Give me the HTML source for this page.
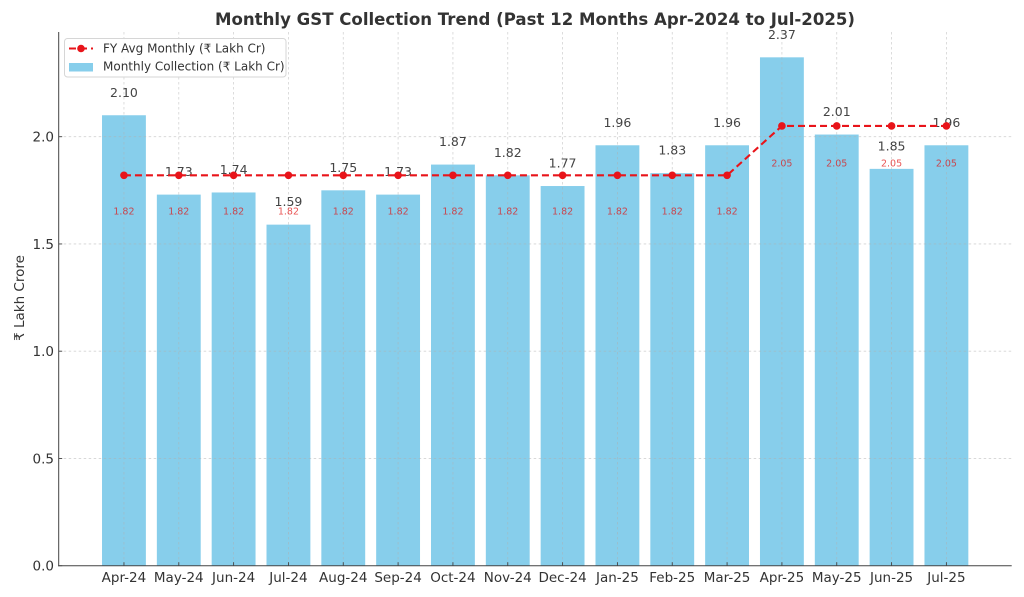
<!DOCTYPE html>
<html><head><meta charset="utf-8"><style>
html,body{margin:0;padding:0;background:#fff;}
svg{display:block;font-family:"DejaVu Sans","Liberation Sans",sans-serif;}
</style></head><body>
<svg width="1024" height="597" viewBox="0 0 1024 597" xmlns="http://www.w3.org/2000/svg">
<rect width="1024" height="597" fill="#fff"/>
<!-- bars -->
<g fill="#87CEEB">
<rect x="102.02" y="115.25" width="43.86" height="450.45"/>
<rect x="156.85" y="194.61" width="43.86" height="371.09"/>
<rect x="211.68" y="192.47" width="43.86" height="373.23"/>
<rect x="266.51" y="224.64" width="43.86" height="341.06"/>
<rect x="321.34" y="190.32" width="43.86" height="375.38"/>
<rect x="376.17" y="194.61" width="43.86" height="371.09"/>
<rect x="431.00" y="164.58" width="43.86" height="401.12"/>
<rect x="485.83" y="175.31" width="43.86" height="390.39"/>
<rect x="540.66" y="186.03" width="43.86" height="379.67"/>
<rect x="595.49" y="145.28" width="43.86" height="420.42"/>
<rect x="650.32" y="173.16" width="43.86" height="392.54"/>
<rect x="705.15" y="145.28" width="43.86" height="420.42"/>
<rect x="759.98" y="57.33" width="43.86" height="508.37"/>
<rect x="814.81" y="134.55" width="43.86" height="431.15"/>
<rect x="869.64" y="168.87" width="43.86" height="396.83"/>
<rect x="924.47" y="145.28" width="43.86" height="420.42"/>
</g>
<!-- grid -->
<g stroke="#b0b0b0" stroke-width="0.8" stroke-dasharray="2.5,2.5" opacity="0.55">
<line x1="58.7" x2="1011.7" y1="458.45" y2="458.45"/>
<line x1="58.7" x2="1011.7" y1="351.2" y2="351.2"/>
<line x1="58.7" x2="1011.7" y1="243.95" y2="243.95"/>
<line x1="58.7" x2="1011.7" y1="136.7" y2="136.7"/>
<line y1="32" y2="565.7" x1="123.95" x2="123.95"/>
<line y1="32" y2="565.7" x1="178.78" x2="178.78"/>
<line y1="32" y2="565.7" x1="233.61" x2="233.61"/>
<line y1="32" y2="565.7" x1="288.44" x2="288.44"/>
<line y1="32" y2="565.7" x1="343.27" x2="343.27"/>
<line y1="32" y2="565.7" x1="398.10" x2="398.10"/>
<line y1="32" y2="565.7" x1="452.93" x2="452.93"/>
<line y1="32" y2="565.7" x1="507.76" x2="507.76"/>
<line y1="32" y2="565.7" x1="562.59" x2="562.59"/>
<line y1="32" y2="565.7" x1="617.42" x2="617.42"/>
<line y1="32" y2="565.7" x1="672.25" x2="672.25"/>
<line y1="32" y2="565.7" x1="727.08" x2="727.08"/>
<line y1="32" y2="565.7" x1="781.91" x2="781.91"/>
<line y1="32" y2="565.7" x1="836.74" x2="836.74"/>
<line y1="32" y2="565.7" x1="891.57" x2="891.57"/>
<line y1="32" y2="565.7" x1="946.40" x2="946.40"/>
</g>
<!-- bar value labels -->
<g fill="#444" font-size="12.5" text-anchor="middle">
<text x="123.95" y="96.75">2.10</text>
<text x="178.78" y="176.1">1.73</text>
<text x="233.61" y="173.97">1.74</text>
<text x="288.44" y="206.14">1.59</text>
<text x="343.27" y="171.82">1.75</text>
<text x="398.10" y="176.1">1.73</text>
<text x="452.93" y="146.08">1.87</text>
<text x="507.76" y="156.81">1.82</text>
<text x="562.59" y="167.53">1.77</text>
<text x="617.42" y="126.78">1.96</text>
<text x="672.25" y="154.66">1.83</text>
<text x="727.08" y="126.78">1.96</text>
<text x="781.91" y="38.83">2.37</text>
<text x="836.74" y="116.05">2.01</text>
<text x="891.57" y="150.37">1.85</text>
<text x="946.40" y="126.78">1.96</text>
</g>
<!-- avg line -->
<polyline fill="none" stroke="#e8141a" stroke-width="2.1" stroke-dasharray="7,4" points="123.95,175.31 178.78,175.31 233.61,175.31 288.44,175.31 343.27,175.31 398.10,175.31 452.93,175.31 507.76,175.31 562.59,175.31 617.42,175.31 672.25,175.31 727.08,175.31 781.91,125.97 836.74,125.97 891.57,125.97 946.40,125.97"/>
<g fill="#e8141a">
<circle cx="123.95" cy="175.31" r="3.8"/><circle cx="178.78" cy="175.31" r="3.8"/><circle cx="233.61" cy="175.31" r="3.8"/><circle cx="288.44" cy="175.31" r="3.8"/><circle cx="343.27" cy="175.31" r="3.8"/><circle cx="398.10" cy="175.31" r="3.8"/><circle cx="452.93" cy="175.31" r="3.8"/><circle cx="507.76" cy="175.31" r="3.8"/><circle cx="562.59" cy="175.31" r="3.8"/><circle cx="617.42" cy="175.31" r="3.8"/><circle cx="672.25" cy="175.31" r="3.8"/><circle cx="727.08" cy="175.31" r="3.8"/><circle cx="781.91" cy="125.97" r="3.8"/><circle cx="836.74" cy="125.97" r="3.8"/><circle cx="891.57" cy="125.97" r="3.8"/><circle cx="946.40" cy="125.97" r="3.8"/>
</g>
<!-- avg labels -->
<g fill="#e01010" fill-opacity="0.72" font-size="9.5" text-anchor="middle">
<text x="123.95" y="214.6">1.82</text><text x="178.78" y="214.6">1.82</text><text x="233.61" y="214.6">1.82</text><text x="288.44" y="214.6">1.82</text><text x="343.27" y="214.6">1.82</text><text x="398.10" y="214.6">1.82</text><text x="452.93" y="214.6">1.82</text><text x="507.76" y="214.6">1.82</text><text x="562.59" y="214.6">1.82</text><text x="617.42" y="214.6">1.82</text><text x="672.25" y="214.6">1.82</text><text x="727.08" y="214.6">1.82</text>
<text x="781.91" y="166.3">2.05</text><text x="836.74" y="166.3">2.05</text><text x="891.57" y="166.3">2.05</text><text x="946.40" y="166.3">2.05</text>
</g>
<!-- spines -->
<g stroke="#444" stroke-width="1">
<line x1="58.7" y1="32" x2="58.7" y2="566.2"/>
<line x1="58.2" y1="565.7" x2="1011.7" y2="565.7"/>
</g>
<!-- ticks inward -->
<g stroke="#444" stroke-width="0.9">
<line x1="58.7" x2="62.2" y1="565.7" y2="565.7"/>
<line x1="58.7" x2="62.2" y1="458.45" y2="458.45"/>
<line x1="58.7" x2="62.2" y1="351.2" y2="351.2"/>
<line x1="58.7" x2="62.2" y1="243.95" y2="243.95"/>
<line x1="58.7" x2="62.2" y1="136.7" y2="136.7"/>
<line y1="565.7" y2="562.2" x1="123.95" x2="123.95"/><line y1="565.7" y2="562.2" x1="178.78" x2="178.78"/><line y1="565.7" y2="562.2" x1="233.61" x2="233.61"/><line y1="565.7" y2="562.2" x1="288.44" x2="288.44"/><line y1="565.7" y2="562.2" x1="343.27" x2="343.27"/><line y1="565.7" y2="562.2" x1="398.10" x2="398.10"/><line y1="565.7" y2="562.2" x1="452.93" x2="452.93"/><line y1="565.7" y2="562.2" x1="507.76" x2="507.76"/><line y1="565.7" y2="562.2" x1="562.59" x2="562.59"/><line y1="565.7" y2="562.2" x1="617.42" x2="617.42"/><line y1="565.7" y2="562.2" x1="672.25" x2="672.25"/><line y1="565.7" y2="562.2" x1="727.08" x2="727.08"/><line y1="565.7" y2="562.2" x1="781.91" x2="781.91"/><line y1="565.7" y2="562.2" x1="836.74" x2="836.74"/><line y1="565.7" y2="562.2" x1="891.57" x2="891.57"/><line y1="565.7" y2="562.2" x1="946.40" x2="946.40"/>
</g>
<!-- y tick labels -->
<g fill="#333" font-size="13.5" text-anchor="end">
<text x="54" y="570.5">0.0</text>
<text x="54" y="463.3">0.5</text>
<text x="54" y="356">1.0</text>
<text x="54" y="248.8">1.5</text>
<text x="54" y="141.5">2.0</text>
</g>
<!-- x tick labels -->
<g fill="#333" font-size="13.5" text-anchor="middle">
<text x="123.95" y="582">Apr-24</text><text x="178.78" y="582">May-24</text><text x="233.61" y="582">Jun-24</text><text x="288.44" y="582">Jul-24</text><text x="343.27" y="582">Aug-24</text><text x="398.10" y="582">Sep-24</text><text x="452.93" y="582">Oct-24</text><text x="507.76" y="582">Nov-24</text><text x="562.59" y="582">Dec-24</text><text x="617.42" y="582">Jan-25</text><text x="672.25" y="582">Feb-25</text><text x="727.08" y="582">Mar-25</text><text x="781.91" y="582">Apr-25</text><text x="836.74" y="582">May-25</text><text x="891.57" y="582">Jun-25</text><text x="946.40" y="582">Jul-25</text>
</g>
<!-- y label -->
<text transform="translate(24,298) rotate(-90)" fill="#333" font-size="13.5" text-anchor="middle">₹ Lakh Crore</text>
<!-- title -->
<text x="535" y="25" fill="#333" font-size="16.5" font-weight="bold" text-anchor="middle" textLength="640" lengthAdjust="spacingAndGlyphs">Monthly GST Collection Trend (Past 12 Months Apr-2024 to Jul-2025)</text>
<!-- legend -->
<rect x="64.5" y="38.5" width="221.5" height="38.5" rx="3" fill="#fff" fill-opacity="0.85" stroke="#d6d6d6" stroke-width="1"/>
<line x1="69" x2="93" y1="48.5" y2="48.5" stroke="#e8141a" stroke-width="2.1" stroke-dasharray="7,4"/>
<circle cx="81" cy="48.5" r="3.8" fill="#e8141a"/>
<rect x="69" y="63" width="24" height="8.5" fill="#87CEEB"/>
<g fill="#333" font-size="12">
<text x="103" y="52.5">FY Avg Monthly (₹ Lakh Cr)</text>
<text x="103" y="70.5">Monthly Collection (₹ Lakh Cr)</text>
</g>
</svg>
</body></html>
